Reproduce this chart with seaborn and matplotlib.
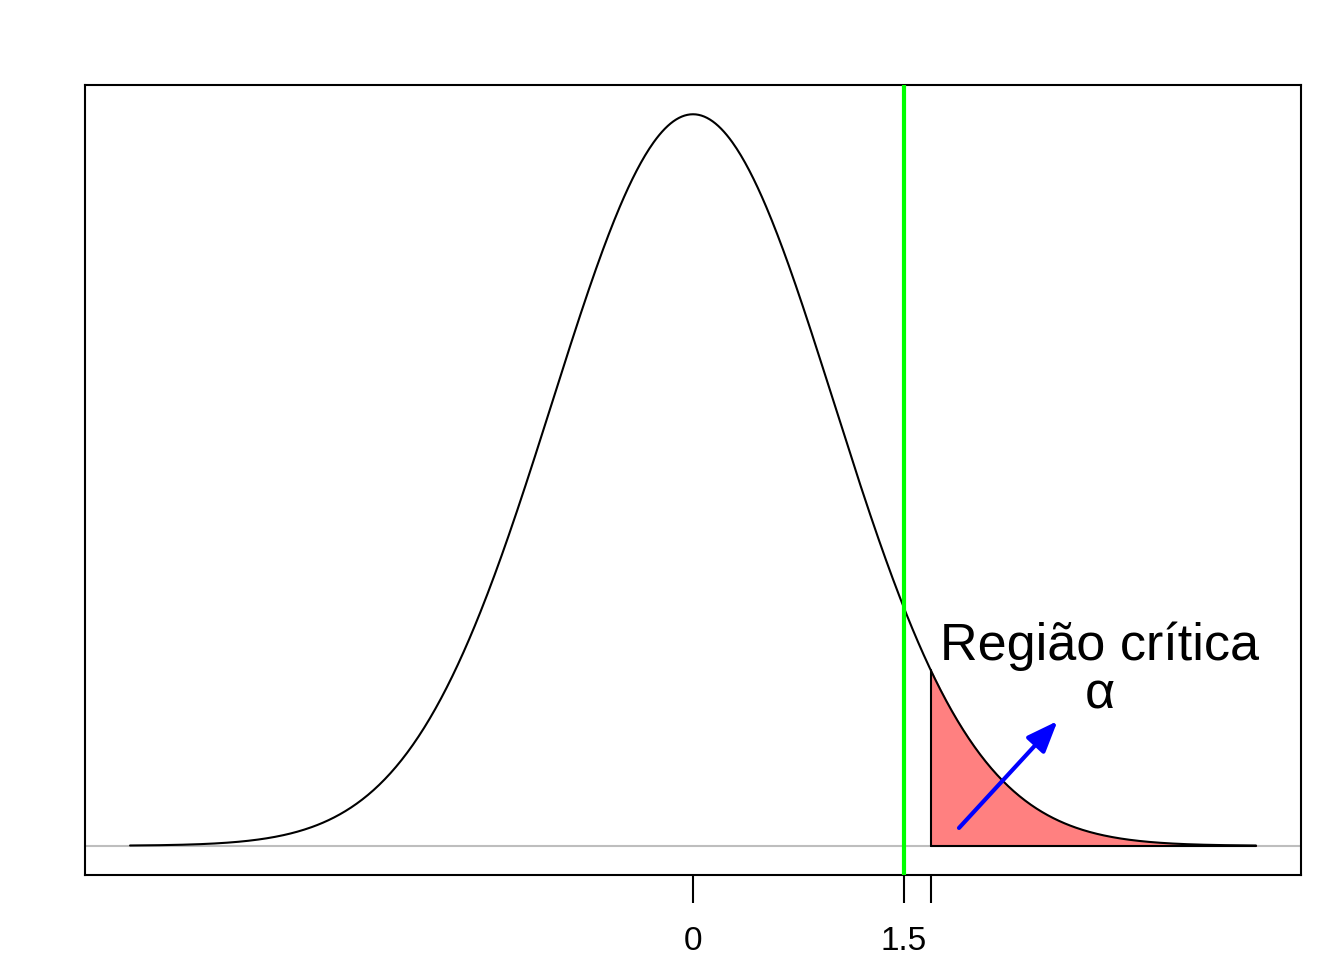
import numpy as np
import pandas as pd
import matplotlib
matplotlib.use("Agg")
import matplotlib.pyplot as plt
import seaborn as sns

# --- dados ---
media, desvio = 0.0, 1.0
x_min, x_max = -4.0, 4.0
z_obs = 1.5            # estatística observada (linha verde)
z_crit = 1.69          # início da região crítica
tick_pos = [0, z_obs, z_crit]
tick_labels = ["0", "1.5", ""]
texto_regiao = "Região crítica"
texto_alfa = "α"

x = np.linspace(x_min, x_max, 801)
dens = np.exp(-0.5 * ((x - media) / desvio) ** 2) / (desvio * np.sqrt(2 * np.pi))
df = pd.DataFrame({"x": x, "dens": dens})

sns.set_style("white")
plt.rcParams['font.family'] = ['Liberation Sans', 'DejaVu Sans']
plt.rcParams['text.color'] = 'black'
plt.rcParams['xtick.color'] = 'black'

fig = plt.figure(figsize=(13.44, 9.6), dpi=100)
ax = fig.add_axes([85 / 1344, 1 - 875 / 960, (1301 - 85) / 1344, (875 - 85) / 960])

# linha de base cinza
ax.axhline(0, color="#BEBEBE", lw=1.5, zorder=1)

# região crítica
cauda = df[df["x"] >= z_crit]
ax.fill_between(cauda["x"], 0, cauda["dens"], color="#FF8080", zorder=2)
ax.plot([z_crit, z_crit], [0, cauda["dens"].iloc[0]], color="black", lw=1.5, zorder=3)
ax.plot([z_crit, x_max], [0, 0], color="black", lw=1.5, zorder=3)

# curva normal
sns.lineplot(data=df, x="x", y="dens", color="black", lw=1.5, ax=ax, zorder=4)

# linha verde da estatística
ax.axvline(z_obs, color="#00FF00", lw=3, zorder=5)

# seta e textos
ax.annotate("", xy=(2.59, 0.068), xytext=(1.89, 0.0097),
            arrowprops=dict(arrowstyle="-|>,head_length=1.9,head_width=0.75",
                            color="blue", lw=3, shrinkA=0, shrinkB=0), zorder=6)
ax.text(2.89, 0.109, texto_regiao, ha="center", va="center", fontsize=37.5, color="black")
ax.text(2.89, 0.082, texto_alfa, ha="center", va="center", fontsize=37.5, color="black")

# limites estilo R (4% de folga)
rng = x_max - x_min
ax.set_xlim(x_min - 0.04 * rng, x_max + 0.04 * rng)
ymax = dens.max()
ax.set_ylim(-0.04 * ymax, ymax * 1.04)

ax.set_xlabel("")
ax.set_ylabel("")
ax.set_yticks([])
ax.set_xticks(tick_pos)
ax.set_xticklabels(tick_labels, fontsize=24, color="black")
ax.tick_params(axis="x", length=20, width=1.5, direction="out", pad=17,
               bottom=True, color="black")
for s in ax.spines.values():
    s.set_color("black")
    s.set_linewidth(1.5)

fig.savefig("out.png", dpi=100)
